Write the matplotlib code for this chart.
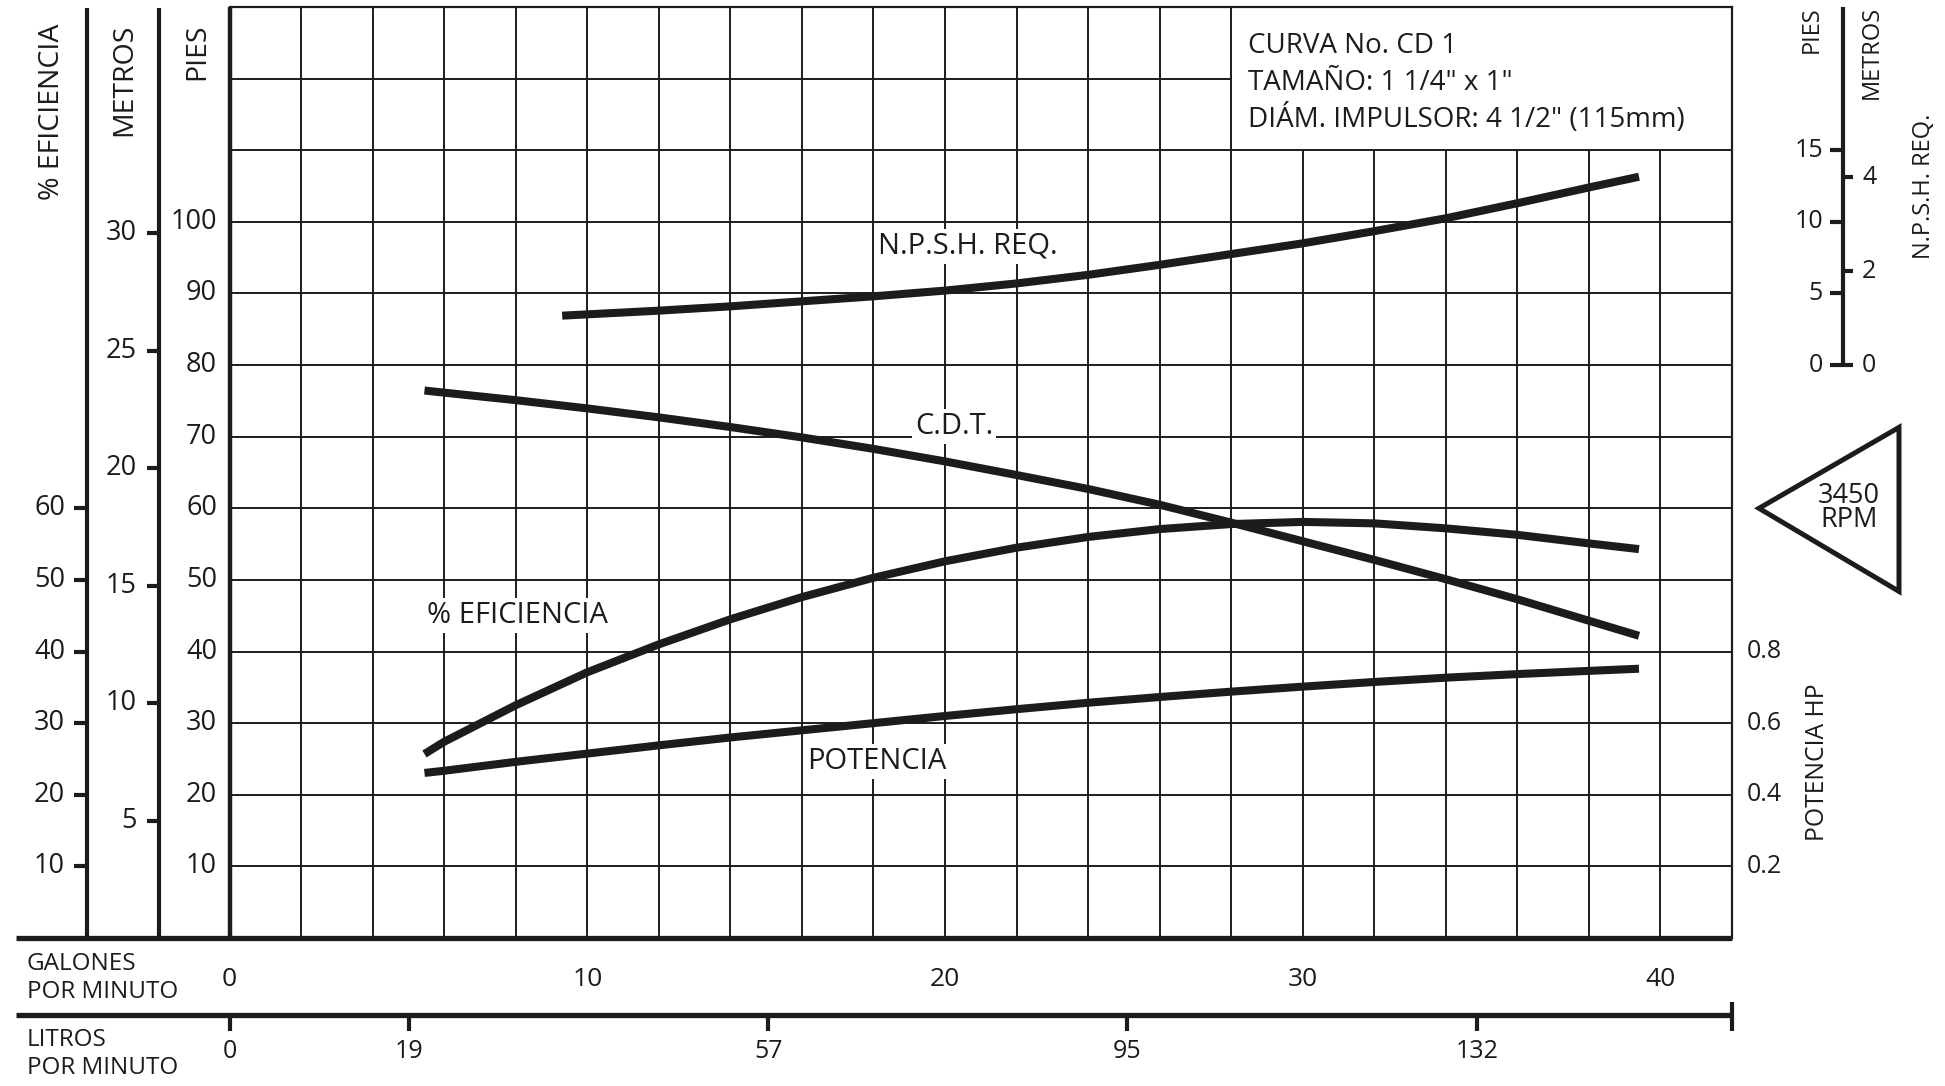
import matplotlib
matplotlib.use("Agg")
import matplotlib.pyplot as plt
from matplotlib.transforms import blended_transform_factory as btf
from matplotlib.patches import Polygon

plt.rcParams['font.family'] = ['Open Sans', 'DejaVu Sans']

# ---------------- data ----------------
gpm_main = [5.45, 6, 8, 10, 12, 14, 16, 18, 20, 22, 24, 26, 28, 30, 32, 34, 36, 38, 39.4]
head_ft = [76.45, 76.15, 75.1, 73.95, 72.7, 71.35, 69.9, 68.3, 66.55, 64.65, 62.7, 60.5,
           58.0, 55.4, 52.8, 50.1, 47.3, 44.3, 42.2]
eff_pct = [25.7, 27.4, 32.5, 37.1, 41.0, 44.5, 47.6, 50.3, 52.6, 54.5, 56.0, 57.1,
           57.8, 58.1, 57.9, 57.2, 56.3, 55.1, 54.3]
power_hp = [0.461, 0.467, 0.492, 0.515, 0.538, 0.560, 0.580, 0.600, 0.620, 0.639,
            0.657, 0.673, 0.688, 0.702, 0.715, 0.727, 0.737, 0.746, 0.752]
gpm_npsh = [9.3, 12, 14, 16, 18, 20, 22, 24, 26, 28, 30, 32, 34, 36, 38, 39.4]
npsh_ft = [3.45, 3.8, 4.1, 4.45, 4.8, 5.2, 5.7, 6.3, 7.0, 7.75, 8.5, 9.35, 10.25,
           11.3, 12.4, 13.15]

gpm_ticks = [0, 10, 20, 30, 40]
lpm_ticks = [0, 19, 57, 95, 132]
ft_ticks = [10, 20, 30, 40, 50, 60, 70, 80, 90, 100]
eff_ticks = [10, 20, 30, 40, 50, 60]
m_ticks = [5, 10, 15, 20, 25, 30]
hp_ticks = [0.2, 0.4, 0.6, 0.8]
npsh_ft_ticks = [0, 5, 10, 15]
npsh_m_ticks = [0, 2, 4]

info_lines = ['CURVA No. CD 1', 'TAMAÑO: 1 1/4" x 1"', 'DIÁM. IMPULSOR: 4 1/2" (115mm)']

# unit conversions (scales of the printed axes)
FT_PER_M = 3.2808
L_PER_GAL = 3.785
HP_TO_FT = 50.0            # 0.2 HP per 10 ft grid line
NPSH_BASE, NPSH_K = 80.0, 2.0  # NPSH scale: 0 at 80 ft, 5 ft per 10 ft grid

XMAX, YMAX = 42, 130
BOX_X, BOX_Y = 28, 110

INK = '#1c1c1c'

fig = plt.figure(figsize=(19.45, 10.86), dpi=100)
L, B = 229.5 / 1945, (1086 - 938) / 1086
W, H = (1732 - 229.5) / 1945, (938 - 7) / 1086
ax = fig.add_axes([L, B, W, H])
ax.set_xlim(0, XMAX)
ax.set_ylim(0, YMAX)
ax.set_axis_off()

ta = btf(ax.transAxes, ax.transData)   # x axes-frac, y data
tx = btf(ax.transData, ax.transAxes)   # x data, y axes-frac

# ---------------- grid ----------------
for gx in range(2, XMAX, 2):
    top = BOX_Y if gx > BOX_X else YMAX
    ax.plot([gx, gx], [0, top], color=INK, lw=1.4, zorder=1, solid_capstyle='butt')
for gy in range(10, YMAX, 10):
    right = BOX_X if gy > BOX_Y else XMAX
    ax.plot([0, right], [gy, gy], color=INK, lw=1.4, zorder=1, solid_capstyle='butt')
# frame
ax.plot([0, XMAX], [YMAX, YMAX], color=INK, lw=1.6, zorder=2, clip_on=False)
ax.plot([XMAX, XMAX], [0, YMAX], color=INK, lw=1.6, zorder=2, clip_on=False)
ax.plot([0, 0], [0, YMAX], color=INK, lw=3.2, zorder=3, clip_on=False, solid_capstyle='butt')

# info box text
for i, t in enumerate(info_lines):
    ax.text(28.47, 124.6 - i * 5.15, t, fontsize=20, ha='left', va='center', color=INK)

# ---------------- curves ----------------
ckw = dict(color=INK, lw=5.8, solid_capstyle='butt', solid_joinstyle='round', zorder=5)
ax.plot(gpm_main, head_ft, **ckw)
ax.plot(gpm_main, eff_pct, **ckw)
ax.plot(gpm_main, [p * HP_TO_FT for p in power_hp], **ckw)
ax.plot(gpm_npsh, [NPSH_BASE + NPSH_K * v for v in npsh_ft], **ckw)

lbl = dict(fontsize=21, ha='center', va='center', color=INK, zorder=4,
           bbox=dict(facecolor='white', edgecolor='none', pad=2))
ax.text(20.65, 96.6, 'N.P.S.H. REQ.', **lbl)
ax.text(20.25, 71.4, 'C.D.T.', **lbl)
ax.text(8.05, 45.0, '% EFICIENCIA', **lbl)
ax.text(18.1, 24.7, 'POTENCIA', **lbl)

# ---------------- left axes ----------------
def px_x(px):
    return (px - 229.5) / 1502.5

def px_y(py):
    return (938 - py) / 931

tk = dict(fontsize=19.5, color=INK, va='center')
# PIES labels
for v in ft_ticks:
    ax.text(px_x(217), v, str(v), ha='right', transform=ta, **tk)
# % efficiency axis
xe = px_x(87)
ax.plot([xe, xe], [0, px_y(8)], transform=ax.transAxes, color=INK, lw=3.0,
        clip_on=False, solid_capstyle='butt')
for v in eff_ticks:
    ax.plot([px_x(74), xe], [v, v], transform=ta, color=INK, lw=3.0, clip_on=False,
            solid_capstyle='butt')
    ax.text(px_x(65), v, str(v), ha='right', transform=ta, **tk)
# metres axis
xm = px_x(159)
ax.plot([xm, xm], [0, px_y(8)], transform=ax.transAxes, color=INK, lw=3.0,
        clip_on=False, solid_capstyle='butt')
for v in m_ticks:
    y = v * FT_PER_M
    ax.plot([px_x(147), xm], [y, y], transform=ta, color=INK, lw=3.0, clip_on=False,
            solid_capstyle='butt')
    ax.text(px_x(137), y, str(v), ha='right', transform=ta, **tk)

ttl = dict(fontsize=20.5, color=INK, rotation=90, ha='center', va='top',
           transform=ax.transAxes)
ax.text(px_x(52), px_y(24), '% EFICIENCIA', **ttl)
ax.text(px_x(124), px_y(24), 'METROS', **ttl)
ax.text(px_x(197), px_y(24), 'PIES', **ttl)

# ---------------- right side ----------------
for v in hp_ticks:
    ax.text(px_x(1747), v * HP_TO_FT, f'{v:.1f}', ha='left', transform=ta,
            fontsize=18, color=INK, va='center')
ax.text(px_x(1817), px_y(762), 'POTENCIA HP', fontsize=17.8, color=INK, rotation=90,
        ha='center', va='center', transform=ax.transAxes)

# NPSH axis
xn = px_x(1843)
ax.plot([xn, xn], [NPSH_BASE, YMAX], transform=ta, color=INK, lw=3.0, clip_on=False,
        solid_capstyle='butt')
for v in npsh_ft_ticks:
    y = NPSH_BASE + NPSH_K * v
    ax.plot([px_x(1830), xn], [y, y], transform=ta, color=INK, lw=3.0, clip_on=False,
            solid_capstyle='butt')
    ax.text(px_x(1823), y, str(v), ha='right', transform=ta, fontsize=18, color=INK,
            va='center')
for v in npsh_m_ticks:
    y = NPSH_BASE + NPSH_K * v * FT_PER_M
    ax.plot([xn, px_x(1853)], [y, y], transform=ta, color=INK, lw=3.0, clip_on=False,
            solid_capstyle='butt')
    ax.text(px_x(1862), y, str(v), ha='left', transform=ta, fontsize=18, color=INK,
            va='center')
rt = dict(fontsize=17, color=INK, rotation=90, ha='center', transform=ax.transAxes)
ax.text(px_x(1812), px_y(6), 'PIES', va='top', **rt)
ax.text(px_x(1872), px_y(6), 'METROS', va='top', **rt)
ax.text(px_x(1924), px_y(186), 'N.P.S.H. REQ.', va='center', **rt)

# RPM triangle
tri = Polygon([[px_x(1759), 60.0], [px_x(1899), 71.3], [px_x(1899), 48.4]], closed=True,
              facecolor='white', edgecolor=INK, lw=3.6, transform=ta, clip_on=False)
ax.add_patch(tri)
ax.text(px_x(1849), 60.0, '3450\nRPM', transform=ta, ha='center', va='center',
        fontsize=19.5, color=INK, linespacing=0.82)

# ---------------- bottom axes ----------------
xl = px_x(16)
ax.plot([xl, 1.0], [0, 0], transform=ax.transAxes, color=INK, lw=3.8, clip_on=False,
        solid_capstyle='butt', zorder=6)
for v in gpm_ticks:
    ax.text(v, px_y(980), str(v), transform=tx, ha='center', va='center',
            fontsize=19, color=INK)
ax.text(px_x(27), px_y(978), 'GALONES\nPOR MINUTO', transform=ax.transAxes, ha='left',
        va='center', fontsize=17.5, color=INK, linespacing=1.2)

yl = px_y(1015)
ax.plot([xl, 1.0], [yl, yl], transform=ax.transAxes, color=INK, lw=3.8, clip_on=False,
        solid_capstyle='butt')
ax.plot([1.0, 1.0], [px_y(1002), px_y(1031)], transform=ax.transAxes, color=INK, lw=3.0,
        clip_on=False, solid_capstyle='butt')
for v in lpm_ticks:
    g = v / L_PER_GAL
    ax.plot([g, g], [yl, px_y(1031)], transform=tx, color=INK, lw=3.0, clip_on=False,
            solid_capstyle='butt')
    ax.text(g, px_y(1052), str(v), transform=tx, ha='center', va='center',
            fontsize=18, color=INK)
ax.text(px_x(27), px_y(1054), 'LITROS\nPOR MINUTO', transform=ax.transAxes, ha='left',
        va='center', fontsize=17.5, color=INK, linespacing=1.2)

fig.savefig('out.png', dpi=100, facecolor='white')
